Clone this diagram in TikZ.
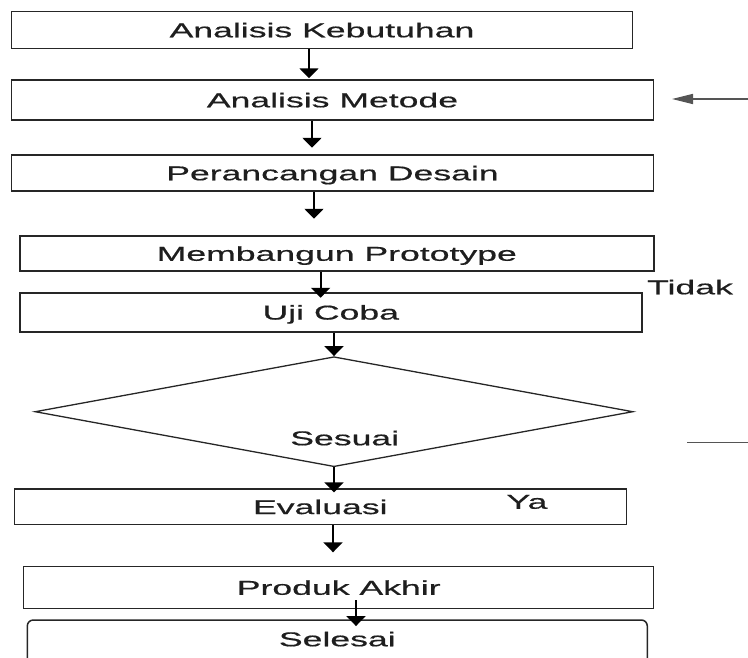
\documentclass[tikz,border=0pt]{standalone}
\usepackage{fontspec}
\setmainfont{Liberation Sans}[FakeStretch=1.78,FakeBold=0.6]
\usepackage{tikz}
\usetikzlibrary{arrows.meta,shapes.geometric}

\definecolor{garis}{HTML}{262626}
\definecolor{teks}{HTML}{1E1E1E}
\definecolor{abu}{HTML}{555555}
\newcommand\huruf{\fontsize{20}{24}\selectfont}

\begin{document}
\begin{tikzpicture}[x=1pt,y=-1pt,
  kotak/.style={draw=garis,line width=1.5pt,inner sep=0pt,text height=14.5pt,text depth=0pt,font=\huruf,text=teks},
  tulisan/.style={inner sep=0pt,text height=14.5pt,text depth=0pt,font=\huruf,text=teks},
  panah/.style={draw=black,line width=1.9pt,-{Triangle[width=19pt,length=10pt]}},
  panahkiri/.style={draw=abu,line width=1.4pt,-{Triangle[width=10pt,length=21pt]}}]
\useasboundingbox (0,0) rectangle (748,657);

%Kotak proses
\node[kotak,minimum width=621pt,minimum height=37pt] (kebutuhan) at (322,30) {Analisis Kebutuhan};
\node[kotak,minimum width=642pt,minimum height=40pt] (metode) at (332.5,100) {Analisis Metode};
\node[kotak,minimum width=642pt,minimum height=36pt] (desain) at (332.5,173) {Perancangan Desain};
\node[kotak,minimum width=634pt,minimum height=35pt] (prototype) at (336.8,253.5) {Membangun Prototype};
\node[kotak,minimum width=622pt,minimum height=39pt] (ujicoba) at (330.8,312.3) {Uji Coba};
\node[draw=garis,line width=1.3pt,diamond,minimum width=598pt,minimum height=110pt,inner sep=0pt] (sesuai) at (334,411.7) {};
\node[kotak,minimum width=612pt,minimum height=35.5pt] (evaluasi) at (320.3,506.8) {Evaluasi};
\node[kotak,minimum width=630pt,minimum height=41.6pt] (produk) at (338.7,587.5) {Produk Akhir};
\node[kotak,rounded corners=6pt,minimum width=620pt,minimum height=60pt,text depth=22pt] (selesai) at (337.3,650) {Selesai};

% Text Node
\node[tulisan] (tidak) at (690,287) {Tidak};
\node[tulisan] (sesuaiteks) at (344.7,438) {Sesuai};
\node[tulisan] (ya) at (527,501.5) {Ya};

%Panah
\draw[panah] ([xshift=-13pt]kebutuhan.south) -- ++(0,29);
\draw[panah] ([xshift=-20.5pt]metode.south) -- ++(0,27);
\draw[panah] ([xshift=-18.5pt]desain.south) -- ++(0,27);
\draw[panah] ([xshift=-16.2pt]prototype.south) -- ++(0,26);
\draw[panah] (sesuai.north |- ujicoba.south) -- (sesuai.north);
\draw[panah] (sesuai.south) -- ++(0,25);
\draw[panah] ([xshift=12.7pt]evaluasi.south) -- ++(0,27);
\draw[panah] ([xshift=17.3pt,yshift=9pt]produk.south) -- ++(0,26);

%Garis kanan
\coordinate (masuk) at (748,99);
\coordinate (masukujung) at (672,99);
\draw[panahkiri] (masuk) -- (masukujung);
\coordinate (keluar) at (687,442.7);
\coordinate (keluarujung) at (748,442.7);
\draw[abu,line width=1.4pt] (keluar) -- (keluarujung);

\end{tikzpicture}
\end{document}
